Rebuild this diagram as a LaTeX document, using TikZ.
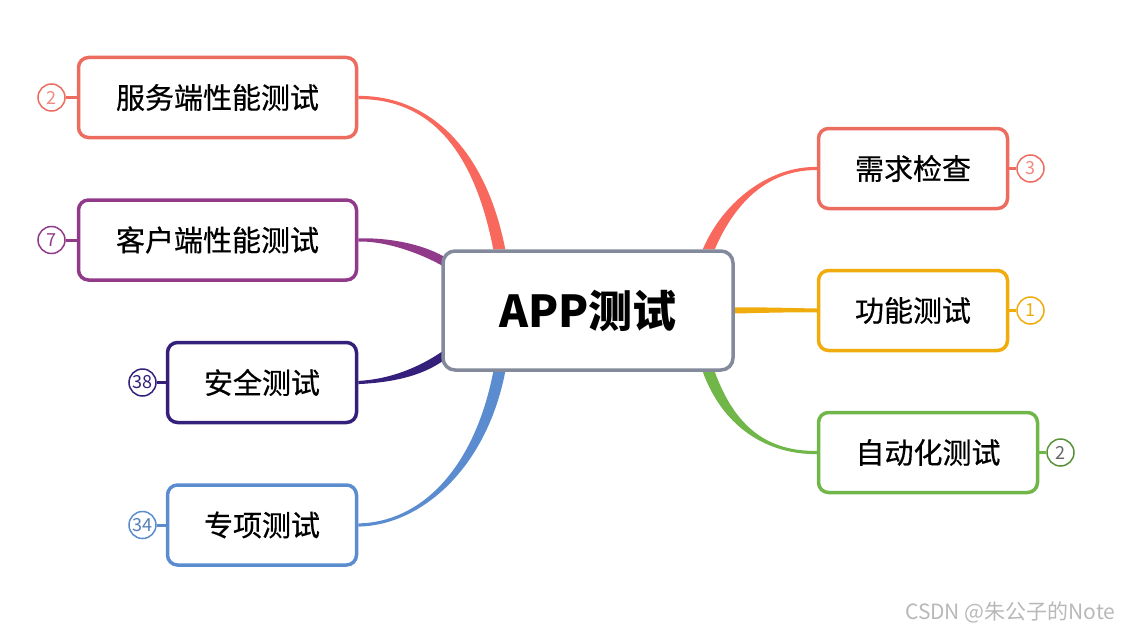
\documentclass[tikz,border=0pt]{standalone}
\usepackage{fontspec}
\setmainfont{Noto Sans CJK SC}
\newfontfamily\topicfont[FakeBold=0.5]{Noto Sans CJK SC}
\usetikzlibrary{positioning, calc, backgrounds}

\definecolor{mmred}{RGB}{236,108,96}
\definecolor{mmredbr}{RGB}{248,104,92}
\definecolor{mmpurple}{RGB}{146,58,138}
\definecolor{mmnavy}{RGB}{52,32,122}
\definecolor{mmblue}{RGB}{92,140,208}
\definecolor{mmyellow}{RGB}{240,172,12}
\definecolor{mmgreen}{RGB}{112,182,72}
\definecolor{mmgray}{RGB}{130,138,155}

% tapered branch: colour, start, start offset, control 1, control 2, end, end offset
\newcommand{\mmbranch}[7]{%
  \fill[#1] ($(#2)+(#3)$) .. controls ($(#4)+(#3)$) and ($(#5)+(#7)$) .. ($(#6)+(#7)$)
    -- ($(#6)-(#7)$) .. controls ($(#5)-(#7)$) and ($(#4)-(#3)$) .. ($(#2)-(#3)$) -- cycle;}

\begin{document}
\begin{tikzpicture}[
        x=1pt, y=-1pt,
        node distance=11pt,
        topic/.style={draw, line width=3.5pt, rounded corners=10pt, fill=white,
            minimum height=80pt, inner sep=0pt, font=\topicfont\fontsize{29}{32}\selectfont},
        badge/.style={circle, draw, line width=1.5pt, fill=white, minimum size=27pt,
            inner sep=0pt, font=\fontsize{18}{20}\selectfont},
        link/.style={line width=3pt}
    ]
    \useasboundingbox (0,0) rectangle (1121,634);

    % central topic
    \node[draw=mmgray, line width=3.5pt, rounded corners=12pt, fill=white,
        minimum width=290pt, minimum height=119pt,
        font=\fontsize{44}{48}\selectfont\bfseries] (app) at (588,310.5) {APP测试};

    % left topics
    \node[topic, draw=mmred, minimum width=278pt] (srv) at (217.5,97.5) {服务端性能测试};
    \node[topic, draw=mmpurple, minimum width=278pt] (cli) at (217.5,240) {客户端性能测试};
    \node[topic, draw=mmnavy, minimum width=189pt] (sec) at (262,382.5) {安全测试};
    \node[topic, draw=mmblue, minimum width=189pt] (spc) at (262,525) {专项测试};

    % right topics
    \node[topic, draw=mmred, minimum width=189pt] (req) at (913,168.5) {需求检查};
    \node[topic, draw=mmyellow, minimum width=189pt] (fun) at (913,310.5) {功能测试};
    \node[topic, draw=mmgreen, minimum width=219pt] (auto) at (928,452.5) {自动化测试};

    % badges
    \node[badge, draw=mmred, text=mmred!80, left=of srv] (nsrv) {2};
    \node[badge, draw=mmpurple, text=mmpurple, left=of cli] (ncli) {7};
    \node[badge, draw=mmnavy, text=mmnavy, left=9pt of sec] (nsec) {38};
    \node[badge, draw=mmblue, text=mmblue!90!black, left=9pt of spc] (nspc) {34};
    \node[badge, draw=mmred, text=mmred!80, right=7pt of req] (nreq) {3};
    \node[badge, draw=mmyellow, text=mmyellow, right=7pt of fun] (nfun) {1};
    \node[badge, draw=mmgreen!80!black, text=black!60, right=7pt of auto] (nauto) {2};

    % watermark
    \node[text=black!28, font=\fontsize{21}{24}\selectfont, anchor=east] (mark) at (1119,612) {CSDN @朱公子的Note};

    \begin{pgfonlayer}{background}
        % branch ends
        \coordinate (s1) at ($(app.north west)+(58,0)$);
        \coordinate (s2) at ($(app.north west)+(2,12)$);
        \coordinate (s3) at ($(app.south west)+(2,-16)$);
        \coordinate (s4) at ($(app.south west)+(58,0)$);
        \coordinate (s5) at ($(app.north east)+(-26,0)$);
        \coordinate (s6) at (app.east);
        \coordinate (s7) at ($(app.south east)+(-26,0)$);

        \mmbranch{mmredbr}{s1}{6,0}{480,150}{430,97}{srv.east}{0,-1.6}
        \mmbranch{mmpurple}{s2}{0,5}{420,248}{385,239}{cli.east}{0,1.6}
        \mmbranch{mmnavy}{s3}{0,5}{420,372}{390,381}{sec.east}{0,1.6}
        \mmbranch{mmblue}{s4}{6,0}{480,470}{420,524}{spc.east}{0,1.6}
        \mmbranch{mmredbr}{s5}{6,0}{730,200}{770,168}{req.west}{0,1.6}
        \mmbranch{mmyellow}{s6}{0,3}{760,310}{790,310}{fun.west}{0,2}
        \mmbranch{mmgreen}{s7}{6,0}{730,430}{770,453}{auto.west}{0,-1.6}

        % badge links
        \draw[link, mmred] (nsrv) -- (srv);
        \draw[link, mmpurple] (ncli) -- (cli);
        \draw[link, mmnavy] (nsec) -- (sec);
        \draw[link, mmblue] (nspc) -- (spc);
        \draw[link, mmred] (nreq) -- (req);
        \draw[link, mmyellow] (nfun) -- (fun);
        \draw[link, mmgreen] (nauto) -- (auto);
    \end{pgfonlayer}

\end{tikzpicture}
\end{document}
